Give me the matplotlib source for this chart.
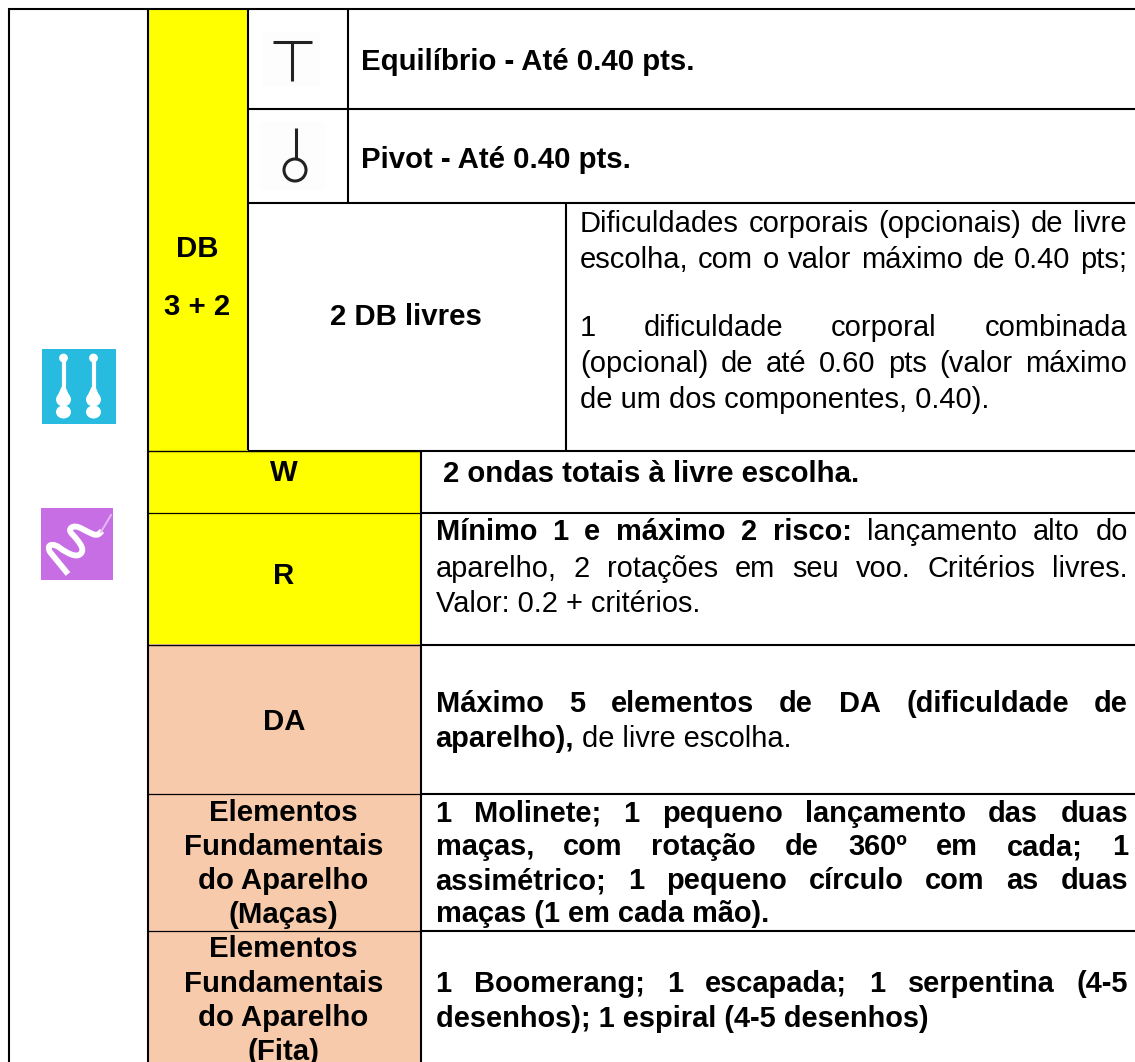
import matplotlib
matplotlib.use("Agg")
import matplotlib.pyplot as plt
from matplotlib.patches import Rectangle, Circle, Ellipse, PathPatch, Polygon
from matplotlib.path import Path
from matplotlib.font_manager import FontProperties

W, H = 1135, 1062
FONT = "Liberation Sans"
SIZE = 21.2
SIZE_R = 21.0
SIZE2 = 20.9
YEL = "#ffff00"
PEACH = "#f7caac"

fig = plt.figure(figsize=(W / 100, H / 100), dpi=100)
ax = fig.add_axes([0, 0, 1, 1])
ax.set_xlim(0, W)
ax.set_ylim(H, 0)
ax.axis("off")

fills = [
    (148, 9, 248, 450, YEL),
    (148, 450, 420, 513, YEL),
    (148, 513, 420, 644, YEL),
    (148, 644, 420, 793, PEACH),
    (148, 793, 420, 930, PEACH),
    (148, 930, 420, 1062, PEACH),
]
for x0, y0, x1, y1, c in fills:
    ax.add_patch(Rectangle((x0, y0), x1 - x0, y1 - y0, fc=c, ec="none", zorder=1))


def hline(y, x0, x1, lw=1.5):
    ax.plot([x0, x1], [y, y], color="black", lw=lw, zorder=3, solid_capstyle="butt")


def vline(x, y0, y1, lw=1.5):
    ax.plot([x, x], [y0, y1], color="black", lw=lw, zorder=3, solid_capstyle="butt")


hline(9, 8, 1135)
hline(108.7, 248, 1135)
hline(202.7, 248, 1135)
hline(450.5, 148, 420, 1.0)
hline(450.5, 248, 1135)
hline(513, 420, 1135)
hline(513, 148, 420, 0.9)
hline(644.5, 420, 1135)
hline(644.5, 148, 420, 1.0)
hline(793.5, 420, 1135)
hline(793.5, 148, 420, 0.9)
hline(930.5, 420, 1135)
hline(930.5, 148, 420, 0.9)
vline(9, 8, 1062)
vline(148, 8, 1062)
vline(248, 8, 450)
vline(347.5, 8, 202)
vline(565.5, 202, 450)
vline(420.5, 450, 1062)


def fprop(bold, size):
    return FontProperties(family=FONT, weight="bold" if bold else "normal", size=size)


def adv(s, bold, size):
    r = fig.canvas.get_renderer()
    w, _, _ = r.get_text_width_height_descent(s, fprop(bold, size), False)
    return w


def put(x, y, s, bold=False, ha="left", size=SIZE):
    ax.text(x, y, s, family=FONT, fontsize=size, fontweight="bold" if bold else "normal",
            ha=ha, va="baseline", color="black", zorder=4)


def just(x0, x1, y, runs, size=SIZE):
    """runs: list of (text, bold); words spread over x0..x1."""
    words = [(w, b) for t, b in runs for w in t.split()]
    total = sum(adv(w, b, size) for w, b in words)
    gap = (x1 - x0 - total) / (len(words) - 1)
    x = x0
    for w, b in words:
        put(x, y, w, b, size=size)
        x += adv(w, b, size) + gap


center_labels = [
    (197, 257, "DB"), (197, 315, "3 + 2"), (405.5, 325, "2 DB livres"),
    (284, 481, "W"), (284, 584, "R"), (284, 730, "DA"),
    (283.5, 821, "Elementos"), (283.5, 855, "Fundamentais"), (283.5, 889, "do Aparelho"), (283.5, 923, "(Maças)"),
    (283.5, 957, "Elementos"), (283.5, 992, "Fundamentais"), (283.5, 1026, "do Aparelho"), (283.5, 1060, "(Fita)"),
]
for x, y, s in center_labels:
    put(x, y, s, True, "center")

put(361, 70, "Equilíbrio - Até 0.40 pts.", True)
put(361, 168, "Pivot - Até 0.40 pts.", True)
put(443, 482, "2 ondas totais à livre escolha.", True)

R1 = 1127
just(580, R1, 232, [("Dificuldades corporais (opcionais) de livre", False)], SIZE_R)
just(580, R1, 268, [("escolha, com o valor máximo de 0.40 pts;", False)], SIZE_R)
just(580, R1, 336, [("1 dificuldade corporal combinada", False)], SIZE_R)
just(580, R1, 372, [("(opcional) de até 0.60 pts (valor máximo", False)], SIZE_R)
put(580, 408, "de um dos componentes, 0.40).", size=SIZE_R)

R2 = 1128
L2 = 435.5
just(L2, R2, 540, [("Mínimo 1 e máximo 2 risco:", True), ("lançamento alto do", False)], SIZE2)
just(L2, R2, 577, [("aparelho, 2 rotações em seu voo. Critérios livres.", False)], SIZE2)
put(L2, 612, "Valor: 0.2 + critérios.", size=SIZE2)

just(L2, R2, 712, [("Máximo 5 elementos de DA (dificuldade de", True)], SIZE2)
put(L2, 747, "aparelho),", True, size=SIZE2)
put(L2 + adv("aparelho),", True, SIZE2) + 8, 747, "de livre escolha.", size=SIZE2)

just(L2, R2, 822, [("1 Molinete; 1 pequeno lançamento das duas", True)], SIZE2)
just(L2, R2, 855, [("maças, com rotação de 360º em cada; 1", True)], SIZE2)
just(L2, R2, 889, [("assimétrico; 1 pequeno círculo com as duas", True)], SIZE2)
put(L2, 922, "maças (1 em cada mão).", True, size=SIZE2)

just(L2, R2, 992, [("1 Boomerang; 1 escapada; 1 serpentina (4-5", True)], SIZE2)
put(L2, 1027, "desenhos); 1 espiral (4-5 desenhos)", True, size=SIZE2)

# symbols
ax.add_patch(Rectangle((262, 32), 58, 54, fc="#fdfdfd", ec="none", zorder=2))
ax.add_patch(Rectangle((260, 122), 65, 68, fc="#fdfdfd", ec="none", zorder=2))
ax.plot([273, 312], [42, 42], color="#222222", lw=2.2, zorder=4, solid_capstyle="butt")
ax.plot([292, 292], [42, 81], color="#222222", lw=2.2, zorder=4, solid_capstyle="butt")
ax.plot([295.5, 295.5], [128, 159], color="#222222", lw=2.2, zorder=4, solid_capstyle="butt")
ax.add_patch(Circle((295, 170), 11, fc="#fdfdfd", ec="#222222", lw=2.2, zorder=4))

# clubs icon
ax.add_patch(Rectangle((41.5, 349), 74.5, 75, fc="#27bbe0", ec="none", zorder=2))
for cx in (63.5, 93.5):
    ax.plot([cx, cx], [358, 395], color="white", lw=3.0, zorder=3, solid_capstyle="butt")
    ax.add_patch(Circle((cx, 358), 4.4, fc="white", ec="none", zorder=3))
    ax.add_patch(Polygon([(cx - 2, 387), (cx + 2, 387), (cx + 6, 396), (cx - 6, 396)], fc="white", ec="none", zorder=3))
    ax.add_patch(Ellipse((cx, 399.5), 15, 14, fc="white", ec="none", zorder=3))
    ax.add_patch(Ellipse((cx, 412), 15, 13, fc="white", ec="none", zorder=3))

# ribbon icon
ax.add_patch(Rectangle((41, 508), 72, 71.5, fc="#c86ee4", ec="none", zorder=2))
pts = [(68, 574), (50, 552), (47, 546), (55, 544), (65, 552), (78, 557), (84, 550),
       (77, 539), (68, 530), (75, 525), (88, 532), (97, 536), (102, 531)]
verts = [pts[0], pts[1]]
codes = [Path.MOVETO, Path.LINETO]
for i in range(2, len(pts) - 1):
    mid = ((pts[i][0] + pts[i + 1][0]) / 2, (pts[i][1] + pts[i + 1][1]) / 2)
    verts += [pts[i], mid]
    codes += [Path.CURVE3, Path.CURVE3]
verts.append(pts[-1])
codes.append(Path.LINETO)
ax.add_patch(PathPatch(Path(verts, codes), fc="none", ec="white", lw=4.2, zorder=3,
                       joinstyle="round", capstyle="butt"))
ax.plot([101, 111], [532, 515], color="#e6b8f2", lw=1.4, zorder=3)

fig.savefig("out.png", dpi=100, facecolor="white")
